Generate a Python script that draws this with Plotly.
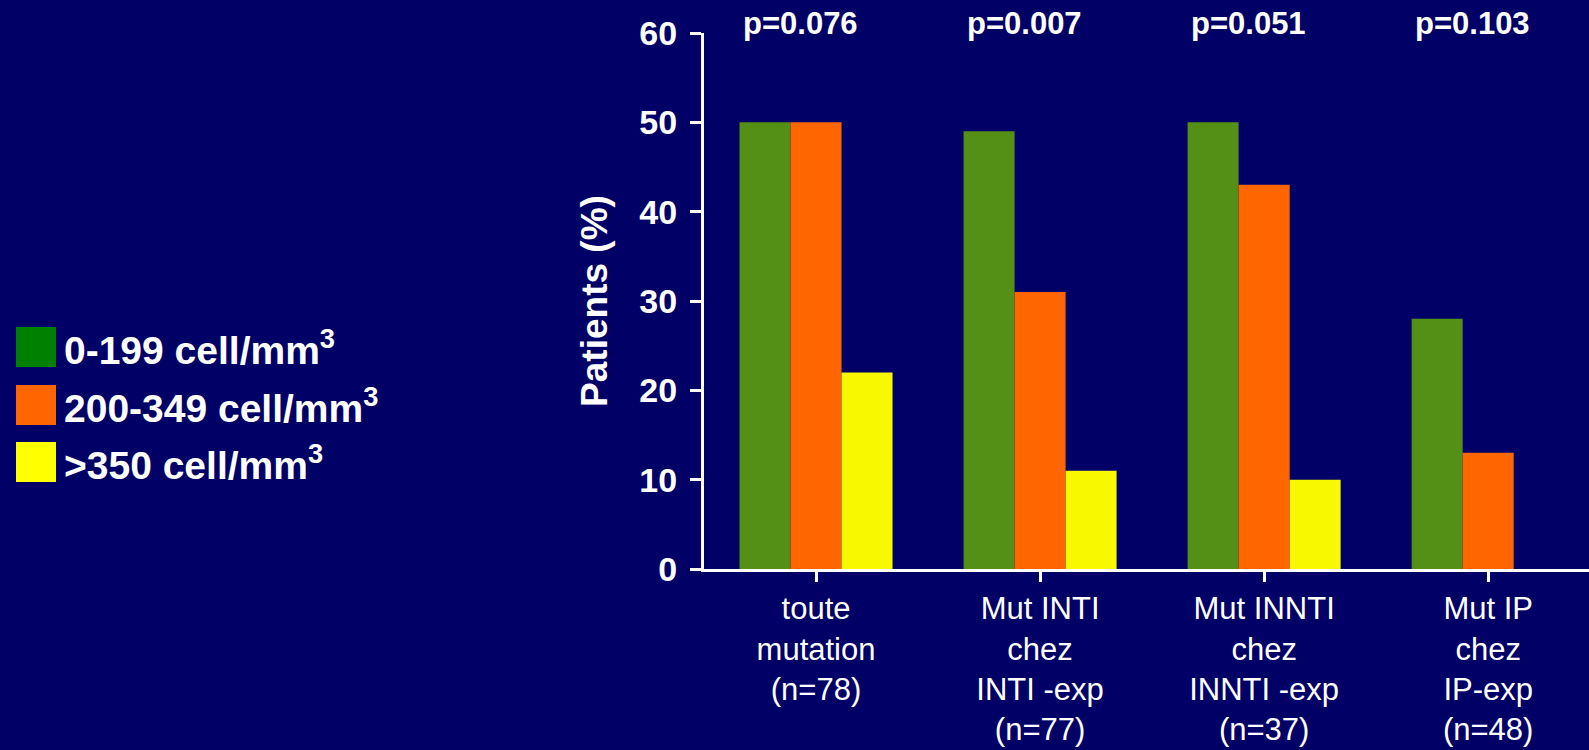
import plotly.graph_objects as go

categories = ["toute<br>mutation<br>(n=78)",
              "Mut INTI<br>chez<br>INTI -exp<br>(n=77)",
              "Mut INNTI<br>chez<br>INNTI -exp<br>(n=37)",
              "Mut IP<br>chez<br>IP-exp<br>(n=48)"]
series_names = ["0-199 cell/mm<sup>3</sup>", "200-349 cell/mm<sup>3</sup>", ">350 cell/mm<sup>3</sup>"]
low_cd4 = [50, 49, 50, 28]
mid_cd4 = [50, 31, 43, 13]
high_cd4 = [22, 11, 10, 0]
p_values = ["p=0.076", "p=0.007", "p=0.051", "p=0.103"]
y_ticks = [0, 10, 20, 30, 40, 50, 60]

bar_colors = ["#548F16", "#FF6600", "#F8F800"]
legend_colors = ["#008000", "#FF6600", "#FFFF00"]
BG = "#000066"

x_idx = list(range(len(categories)))
fig = go.Figure()
for name, vals, col in zip(series_names, [low_cd4, mid_cd4, high_cd4], bar_colors):
    fig.add_trace(go.Bar(x=x_idx, y=vals, name=name, marker=dict(color=col, line=dict(width=0)),
                         showlegend=False))

# plot area geometry (pixels) for legend placement in paper coords
W, H = 1589, 750
L, R, T, B = 704, 0, 33, 181
pw, ph = W - L - R, H - T - B

def px2x(px):
    return (px - L) / pw

def py2y(py):
    return (H - B - py) / ph

leg_tops = [327, 385, 442]
for top, col, name in zip(leg_tops, legend_colors, series_names):
    fig.add_shape(type="rect", xref="paper", yref="paper",
                  x0=px2x(16), x1=px2x(56), y0=py2y(top + 40), y1=py2y(top),
                  fillcolor=col, line=dict(width=0))
    fig.add_annotation(xref="paper", yref="paper", x=px2x(62), y=py2y(top + 20),
                       text=name, showarrow=False, xanchor="left", yanchor="middle",
                       font=dict(size=39, color="white", family="Liberation Sans, Arial, sans-serif", weight="bold"))

for i, p in enumerate(p_values):
    fig.add_annotation(x=i, y=60, text=p, showarrow=False, xanchor="center", yanchor="middle",
                       xshift=-16, yshift=10,
                       font=dict(size=31, color="white", family="Liberation Sans, Arial, sans-serif", weight="bold"))

fig.update_layout(
    width=W, height=H,
    paper_bgcolor=BG, plot_bgcolor=BG,
    margin=dict(l=L, r=R, t=T, b=B),
    barmode="group", bargap=0.317, bargroupgap=0,
    font=dict(family="Liberation Sans, Arial, sans-serif", color="white"),
)
fig.update_xaxes(
    tickmode="array", tickvals=x_idx, ticktext=categories,
    range=[-0.5, 3.45], tickson="boundaries",
    showline=True, linecolor="white", linewidth=3,
    ticks="outside", ticklen=10, tickwidth=3, tickcolor="white",
    showgrid=False, zeroline=False,
    tickfont=dict(size=31, color="white", family="Liberation Sans Narrow, Liberation Sans, Arial, sans-serif"),
)
fig.update_yaxes(
    range=[0, 60], tickmode="array", tickvals=y_ticks,
    showline=True, linecolor="white", linewidth=3,
    ticks="outside", ticklen=11, tickwidth=3, tickcolor="white",
    showgrid=False, zeroline=False, ticklabelstandoff=6,
    tickfont=dict(size=34, color="white", family="Liberation Sans, Arial, sans-serif", weight="bold"),
    title=dict(text="Patients (%)", standoff=21,
               font=dict(size=37, color="white", family="Liberation Sans, Arial, sans-serif", weight="bold")),
)

fig.write_html("out.html")
